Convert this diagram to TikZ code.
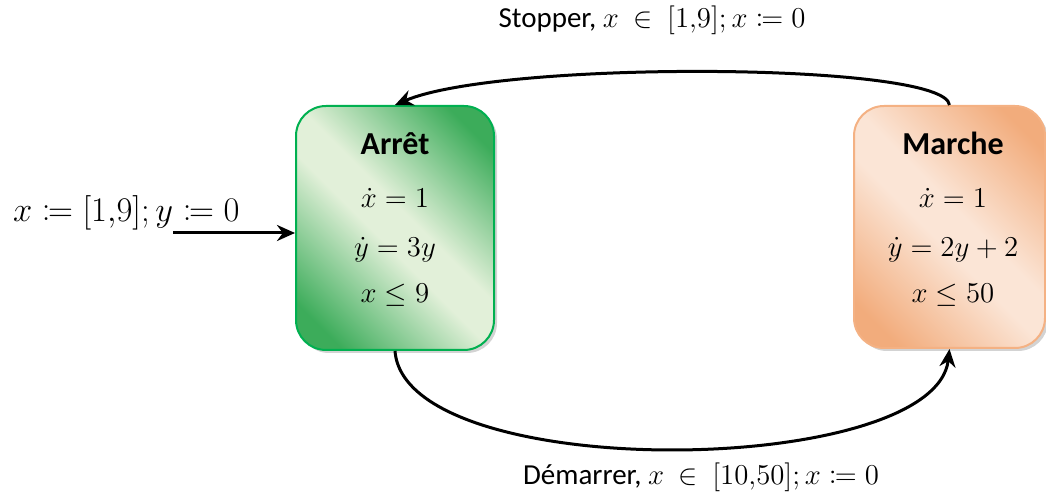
\documentclass[tikz,border=0pt]{standalone}
\usepackage{mathtools}
\usepackage{fontspec}
\setmainfont{Carlito}
\usetikzlibrary{arrows.meta,shadows}
\definecolor{gborder}{RGB}{0,176,80}
\definecolor{gdark}{RGB}{60,172,90}
\definecolor{glight}{RGB}{226,240,217}
\definecolor{oborder}{RGB}{244,177,131}
\definecolor{odark}{RGB}{242,172,124}
\definecolor{olight}{RGB}{251,229,214}
\pgfdeclareverticalshading{greendiag}{100bp}{color(0bp)=(gdark); color(22bp)=(gdark); color(46bp)=(glight); color(54bp)=(glight); color(78bp)=(gdark); color(100bp)=(gdark)}
\pgfdeclareverticalshading{orangediag}{100bp}{color(0bp)=(odark); color(22bp)=(odark); color(46bp)=(olight); color(54bp)=(olight); color(78bp)=(odark); color(100bp)=(odark)}
\tikzset{
  state/.style={rectangle, rounded corners=15pt, line width=1pt, inner sep=0pt,
    drop shadow={shadow xshift=1.5pt, shadow yshift=-1.5pt, opacity=0.35}},
  greenstate/.style={state, draw=gborder, shading=greendiag, shading angle=-45,
    minimum width=99pt, minimum height=122pt},
  orangestate/.style={state, draw=oborder, shading=orangediag, shading angle=-45,
    minimum width=95.5pt, minimum height=121pt},
  title/.style={anchor=base, font=\fontsize{16}{19}\selectfont\bfseries},
  eq/.style={anchor=base, font=\fontsize{15}{18}\selectfont},
  lbl/.style={anchor=base, font=\fontsize{14.5}{17}\selectfont},
  conn/.style={line width=1.5pt, -{Stealth[length=9pt,width=8pt]}}
}
\begin{document}
\begin{tikzpicture}[x=0.5pt,y=-0.5pt]
\useasboundingbox (0,0) rectangle (1046,496);
\node[greenstate] (arret) at (395,228) {};
\node[orangestate] (marche) at (949.5,227) {};
\node[title] (arrett) at (395,155) {Arrêt};
\node[eq] (a1) at (395,208) {$\dot x = 1$};
\node[eq] (a2) at (395,257) {$\dot y = 3y$};
\node[eq] (a3) at (395,303) {$x \le 9$};
\node[title] (marchet) at (953,155) {Marche};
\node[eq] (m1) at (953,208) {$\dot x = 1$};
\node[eq] (m2) at (953,257) {$\dot y = 2y + 2$};
\node[eq] (m3) at (953,303) {$x \le 50$};
\node[lbl] (stop) at (652,28) {Stopper, $x\ \in\ [1{,}9]; x \coloneqq 0$};
\node[lbl] (dem) at (701,485) {Démarrer, $x\ \in\ [10{,}50]; x \coloneqq 0$};
\node[anchor=base west, font=\fontsize{18.5}{21}\selectfont] (init) at (6,222) {$x \coloneqq [1{,}9]; y \coloneqq 0$};
\coordinate (start) at (173,233);
\coordinate (t1) at (945,62);
\coordinate (t2) at (500,60);
\coordinate (b1) at (405,485);
\coordinate (b2) at (935,478);
\draw[conn] (start) -- (start -| arret.west);
\draw[conn] (marche.north) .. controls (t1) and (t2) .. (arret.north);
\draw[conn] (arret.south) .. controls (b1) and (b2) .. (marche.south);
\end{tikzpicture}
\end{document}
